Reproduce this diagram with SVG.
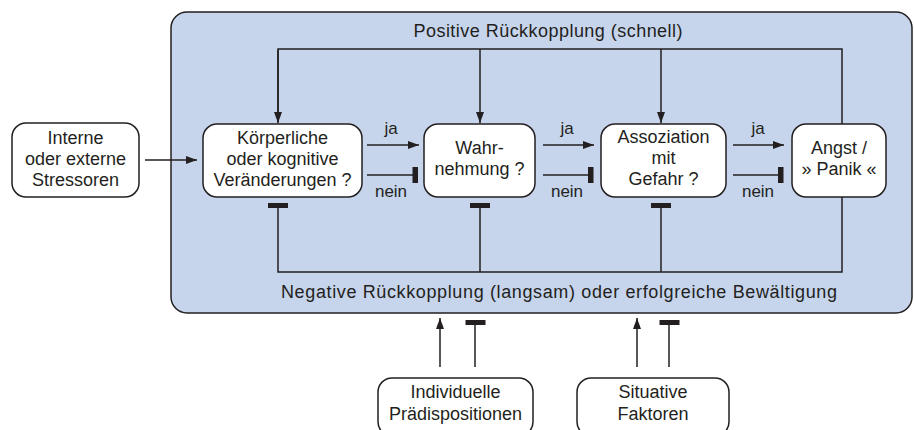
<svg xmlns="http://www.w3.org/2000/svg" width="914" height="430" viewBox="0 0 914 430">
<defs>
<marker id="arr" markerWidth="11" markerHeight="8" refX="11" refY="4" orient="auto" markerUnits="userSpaceOnUse">
<path d="M0,0 L11,4 L0,8 Z" fill="#231f20"/>
</marker>
<style>
.t{font-family:"Liberation Sans",Arial,sans-serif;font-size:18px;fill:#231f20;text-anchor:middle}
.lbl{font-family:"Liberation Sans",Arial,sans-serif;font-size:18px;fill:#231f20;text-anchor:middle}
.sm{font-family:"Liberation Sans",Arial,sans-serif;font-size:17px;fill:#231f20;text-anchor:middle}
.box{fill:#ffffff;stroke:#231f20;stroke-width:1.5}
.ln{fill:none;stroke:#231f20;stroke-width:1.5}
.bar{fill:#231f20}
</style>
</defs>
<rect x="171" y="12" width="741" height="301" rx="16" fill="#c6d5ec" stroke="#231f20" stroke-width="1.5"/>
<text class="lbl" x="548" y="37" textLength="269" lengthAdjust="spacing">Positive Rückkopplung (schnell)</text>
<text class="lbl" x="559" y="298" textLength="556" lengthAdjust="spacing">Negative Rückkopplung (langsam) oder erfolgreiche Bewältigung</text>
<g id="connectors">
<path class="ln" d="M278,122 V49 H842 V124"/>
<path class="ln" d="M278,50 V123" marker-end="url(#arr)"/>
<path class="ln" d="M480,49 V123" marker-end="url(#arr)"/>
<path class="ln" d="M661,49 V123" marker-end="url(#arr)"/>
<path class="ln" d="M278,206 V272 H842 V197"/>
<path class="ln" d="M480,206 V272"/>
<path class="ln" d="M661,206 V272"/>
<rect class="bar" x="268" y="203" width="20" height="5"/>
<rect class="bar" x="470" y="203" width="20" height="5"/>
<rect class="bar" x="651" y="203" width="20" height="5"/>
<path class="ln" d="M145,160 H197" marker-end="url(#arr)"/>
<path class="ln" d="M367,145 H419" marker-end="url(#arr)"/>
<path class="ln" d="M367,175 H414"/>
<rect class="bar" x="412.5" y="167" width="5.5" height="16"/>
<path class="ln" d="M543,145 H594" marker-end="url(#arr)"/>
<path class="ln" d="M543,175 H589"/>
<rect class="bar" x="588" y="167" width="5.5" height="16"/>
<path class="ln" d="M733,145 H784" marker-end="url(#arr)"/>
<path class="ln" d="M733,175 H779"/>
<rect class="bar" x="778" y="167" width="5.5" height="16"/>
<text class="sm" x="391" y="134">ja</text>
<text class="sm" x="391" y="197">nein</text>
<text class="sm" x="567" y="134">ja</text>
<text class="sm" x="567" y="197">nein</text>
<text class="sm" x="758" y="134">ja</text>
<text class="sm" x="758" y="197">nein</text>
<path class="ln" d="M440,367 V318" marker-end="url(#arr)"/>
<path class="ln" d="M475,367 V324"/>
<rect class="bar" x="465.5" y="320" width="20" height="5"/>
<path class="ln" d="M637,367 V318" marker-end="url(#arr)"/>
<path class="ln" d="M669,367 V324"/>
<rect class="bar" x="659.5" y="320" width="20" height="5"/>
</g>
<g id="stressoren">
<rect class="box" x="12" y="123" width="127" height="74" rx="14"/>
<text class="t"><tspan x="75.5" y="144">Interne</tspan><tspan x="75.5" y="165">oder externe</tspan><tspan x="75.5" y="186">Stressoren</tspan></text>
</g>
<g id="veraenderungen">
<rect class="box" x="203" y="124" width="159" height="73" rx="14"/>
<text class="t"><tspan x="282.5" y="144">Körperliche</tspan><tspan x="282.5" y="165">oder kognitive</tspan><tspan x="282.5" y="186">Veränderungen ?</tspan></text>
</g>
<g id="wahrnehmung">
<rect class="box" x="424" y="124" width="111" height="73" rx="14"/>
<text class="t"><tspan x="479.5" y="154">Wahr-</tspan><tspan x="479.5" y="175">nehmung ?</tspan></text>
</g>
<g id="assoziation">
<rect class="box" x="601" y="124" width="125" height="73" rx="14"/>
<text class="t"><tspan x="663.5" y="143">Assoziation</tspan><tspan x="663.5" y="164">mit</tspan><tspan x="663.5" y="185">Gefahr ?</tspan></text>
</g>
<g id="angst">
<rect class="box" x="792" y="124" width="94" height="73" rx="14"/>
<text class="t"><tspan x="839" y="154">Angst /</tspan><tspan x="839" y="175">» Panik «</tspan></text>
</g>
<g id="praedispositionen">
<rect class="box" x="378" y="378" width="155" height="58" rx="14"/>
<text class="t"><tspan x="455.5" y="398">Individuelle</tspan><tspan x="455.5" y="420">Prädispositionen</tspan></text>
</g>
<g id="situative">
<rect class="box" x="577" y="378" width="152" height="58" rx="14"/>
<text class="t"><tspan x="653" y="398">Situative</tspan><tspan x="653" y="420">Faktoren</tspan></text>
</g>
</svg>
